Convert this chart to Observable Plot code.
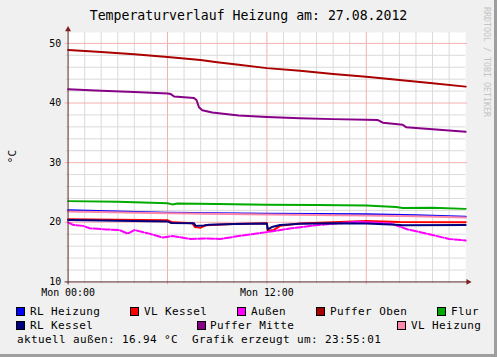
<!DOCTYPE html>
<html><head><meta charset="utf-8">
<script src="https://cdn.jsdelivr.net/npm/d3@7"></script>
<script src="https://cdn.jsdelivr.net/npm/@observablehq/plot@0.6"></script>
<style>
html,body{margin:0;padding:0;background:#f0f0f0;}
#chart{position:relative;width:497px;height:357px;background:#f0f0f0;box-sizing:border-box;border-right:3px solid #9e9e9e;border-bottom:3px solid #9e9e9e;font-family:"DejaVu Sans Mono",monospace;overflow:hidden;color:#000}
.abs{position:absolute;white-space:pre;line-height:1}
.sw{position:absolute;width:7px;height:7px;border:1px solid #000}
#plot{position:absolute;left:0;top:24px}
</style></head><body><div id="chart"></div><script>
// ---- data (hour of day, °C) ----
const title = "Temperaturverlauf Heizung am: 27.08.2012";
const yLabel = "°C";
const watermark = "RRDTOOL / TOBI OETIKER";
const footer = "aktuell außen: 16.94 °C  Grafik erzeugt um: 23:55:01";
const xTicks = [0, 12];
const xTickLabels = ["Mon 00:00", "Mon 12:00"];
const yTicks = [10, 20, 30, 40, 50];
const names = ["RL Heizung","VL Kessel","Außen","Puffer Oben","Flur","RL Kessel","Puffer Mitte","VL Heizung"];
const colors = ["#0000ff","#ff0000","#ff00ff","#aa0000","#00aa00","#000080","#880088","#ff88aa"];

const rlHeizung = [[0,22.0],[3,21.8],[6,21.6],[12,21.45],[18,21.33],[21,21.2],[24,20.95]];
const vlKessel = [[0,20.5],[6,20.35],[6.3,20.0],[7.5,19.85],[7.65,19.2],[8.0,19.1],[8.3,19.5],[10,19.7],[12,19.85],[12.05,18.6],[12.4,18.7],[12.8,19.4],[14,19.8],[16,20.0],[18,20.2],[20,20.05],[24,20.0]];
const aussen = [[0,20.0],[0.3,19.55],[0.9,19.4],[1.3,19.0],[2.3,18.8],[3.1,18.7],[3.6,18.1],[4.0,18.7],[4.9,18.1],[5.7,17.45],[6.3,17.7],[7.4,17.2],[8.3,17.3],[9.2,17.2],[10.3,17.7],[11.1,18.0],[12,18.35],[13.5,19.0],[15.1,19.55],[17.5,20.1],[19.5,19.8],[20.5,18.8],[21.8,18.0],[23.0,17.2],[24,16.94]];
const pufferOben = [[0,48.9],[2,48.55],[4,48.17],[6,47.7],[8,47.2],[9,46.85],[10.3,46.4],[12,45.85],[14,45.4],[16,44.85],[18,44.4],[20,43.85],[22,43.3],[24,42.75]];
const flur = [[0,23.55],[3,23.45],[6,23.2],[6.3,23.0],[6.6,23.15],[9,23.05],[12,22.95],[15,22.9],[18,22.8],[19.8,22.55],[20.2,22.4],[22,22.45],[24,22.25]];
const rlKessel = [[0,20.4],[6,20.15],[6.2,19.9],[7.6,19.85],[7.7,19.4],[8.2,19.45],[8.5,19.6],[10,19.7],[12,19.8],[12.05,18.8],[12.3,19.2],[12.8,19.55],[14,19.75],[16,19.85],[18,19.8],[19.8,19.6],[20.2,19.5],[24,19.55]];
const pufferMitte = [[0,42.3],[2,42.05],[4,41.85],[6,41.6],[6.2,41.5],[6.4,41.1],[7.6,40.85],[7.75,40.5],[7.9,39.3],[8.1,38.8],[8.7,38.4],[10.3,37.9],[12,37.65],[14,37.45],[16,37.3],[18,37.2],[18.7,37.15],[19.0,36.7],[20.2,36.35],[20.4,35.95],[22,35.6],[24,35.2]];
const vlHeizung = [[0,21.8],[6,21.5],[12,21.3],[18,21.15],[21,21.0],[24,20.8]];
const seriesData = [rlHeizung, vlKessel, aussen, pufferOben, flur, rlKessel, pufferMitte, vlHeizung];

// ---- layout ----
const chart = document.getElementById("chart");
const W = 497, H = 276, mT = 8, mB = 17, mL = 68, mR = 29;
const yTop = 10 + (H - mT - mB) / 6;
const pxX = 24 / (W - mL - mR), pxY = 1 / 6;
const gridCol = "#dadada", mgridCol = "#f2b0b0", axisCol = "#5a2626", arrowCol = "#7f1f1f";

const minorX = d3.range(1, 24).filter(h => h % 6 !== 0);
const majorX = [6, 12, 18];
const minorY = d3.range(12, 51, 2).filter(v => v % 10 !== 0);
const majorY = [20, 30, 40, 50];

const marks = [
  Plot.frame({fill: "white", stroke: "none"}),
  Plot.ruleX(minorX, {x: d => d, y1: 10 - 2 * pxY, y2: yTop, stroke: gridCol, strokeWidth: 1}),
  Plot.ruleY(minorY, {y: d => d, x1: -2 * pxX, x2: 24, stroke: gridCol, strokeWidth: 1}),
  Plot.ruleX(majorX, {x: d => d, y1: 10 - 3 * pxY, y2: yTop, stroke: mgridCol, strokeWidth: 1}),
  Plot.ruleY(majorY, {y: d => d, x1: -3 * pxX, x2: 24 + 2 * pxX, stroke: mgridCol, strokeWidth: 1}),
];
seriesData.forEach((s, i) => {
  marks.push(Plot.line(s, {x: d => d[0], y: d => d[1], stroke: colors[i], strokeWidth: 2,
    strokeDasharray: names[i] === "Außen" ? "7,2" : null, strokeLinejoin: "round"}));
});
marks.push(
  Plot.ruleY([10], {y: d => d, x1: -3 * pxX, x2: 24 + 3 * pxX, stroke: axisCol, strokeWidth: 1}),
  Plot.ruleX([0], {x: d => d, y1: 10 - 3 * pxY, y2: yTop + 3 * pxY, stroke: axisCol, strokeWidth: 1}),
  Plot.dot([0], {x: 24 + 2.5 * pxX, y: 10, symbol: "triangle", r: 2.2, fill: arrowCol, stroke: "none", rotate: 90}),
  Plot.dot([0], {x: 0, y: yTop + 3 * pxY, symbol: "triangle", r: 2.2, fill: arrowCol, stroke: "none"}),
  Plot.text(yTicks, {x: 0, y: d => d, text: d => String(d), dx: -7, textAnchor: "end", fontSize: 10, fill: "#000"}),
  Plot.text(xTicks, {x: d => d, y: 10, text: (d, i) => xTickLabels[i], dy: 11, fontSize: 10, fill: "#000"}),
  Plot.text([yLabel], {frameAnchor: "left", dx: -56, dy: 6, text: d => d, rotate: -90, fontSize: 11, fill: "#000"})
);

const svg = Plot.plot({
  width: W, height: H, marginTop: mT, marginBottom: mB, marginLeft: mL, marginRight: mR,
  x: {domain: [0, 24], axis: null},
  y: {domain: [10, yTop], axis: null},
  style: {background: "transparent", fontFamily: "'DejaVu Sans Mono', monospace", overflow: "visible"},
  marks
});
svg.id = "plot";
chart.appendChild(svg);

function addText(txt, left, top, fs, extra) {
  const d = document.createElement("div");
  d.className = "abs";
  d.textContent = txt;
  d.style.left = left + "px"; d.style.top = top + "px"; d.style.fontSize = fs + "px";
  Object.assign(d.style, extra || {});
  chart.appendChild(d);
  return d;
}
addText(title, 0, 9, 13.2, {width: "497px", textAlign: "center"});
addText(watermark, 483, 7, 8.3, {writingMode: "vertical-rl", color: "#c4c4c4", lineHeight: "8px"});

// legend
const legendPos = [[16, 30, 307], [130, 144, 307], [237, 251, 307], [316, 330, 307], [437, 451, 307],
                   [16, 30, 321], [197, 210, 321], [397, 411, 321]];
names.forEach((name, k) => {
  const [sx, tx, sy] = legendPos[k];
  const sw = document.createElement("div");
  sw.className = "sw";
  sw.style.left = sx + "px"; sw.style.top = sy + "px"; sw.style.background = colors[k];
  chart.appendChild(sw);
  addText(name, tx, sy - 1, 11, {letterSpacing: "0.4px"});
});
addText(footer, 17, 334, 11, {letterSpacing: "0.38px"});
</script></body></html>
